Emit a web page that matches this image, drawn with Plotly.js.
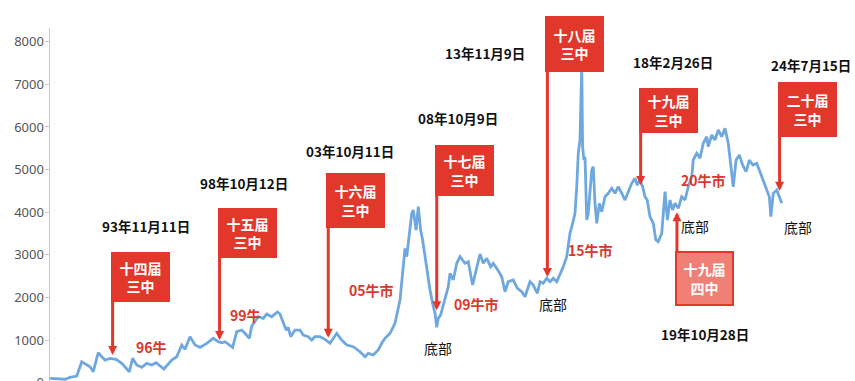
<!DOCTYPE html>
<html>
<head>
<meta charset="utf-8">
<script src="https://cdn.plot.ly/plotly-3.0.1.min.js"></script>
<style>
  html, body { margin: 0; padding: 0; background: #fff; overflow: hidden; }
  #chart { width: 855px; height: 385px; }
</style>
</head>
<body>
<div id="chart"></div>
<script>
// Index level, sampled along the timeline (decimal years)
const years = [1990.98,1991.67,1991.90,1992.21,1992.44,1992.67,1992.82,1992.97,1993.20,1993.36,1993.51,1993.74,1994.02,1994.28,1994.43,1994.63,1994.78,1994.97,1995.20,1995.43,1995.66,1995.86,1996.22,1996.58,1996.81,1997.04,1997.19,1997.42,1997.65,1997.88,1998.19,1998.49,1998.72,1998.88,1999.03,1999.26,1999.38,1999.57,1999.80,1999.95,2000.15,2000.26,2000.41,2000.56,2000.79,2000.95,2001.18,2001.44,2001.56,2001.71,2001.84,2001.94,2002.05,2002.25,2002.48,2002.63,2002.86,2003.02,2003.17,2003.40,2003.63,2003.86,2004.17,2004.40,2004.63,2004.93,2005.24,2005.47,2005.62,2005.85,2006.08,2006.24,2006.39,2006.62,2006.85,2007.08,2007.20,2007.31,2007.39,2007.51,2007.62,2007.69,2007.82,2007.92,2008.03,2008.12,2008.23,2008.34,2008.46,2008.58,2008.69,2008.77,2008.84,2008.95,2009.15,2009.30,2009.38,2009.53,2009.69,2009.84,2010.07,2010.22,2010.42,2010.58,2010.76,2010.91,2011.07,2011.25,2011.37,2011.53,2011.76,2011.91,2012.06,2012.29,2012.48,2012.68,2012.83,2013.06,2013.21,2013.40,2013.52,2013.67,2013.83,2013.98,2014.13,2014.29,2014.44,2014.59,2014.75,2014.90,2015.02,2015.13,2015.21,2015.28,2015.36,2015.44,2015.48,2015.54,2015.59,2015.67,2015.74,2015.90,2015.97,2016.05,2016.13,2016.25,2016.36,2016.51,2016.66,2016.82,2016.97,2017.12,2017.28,2017.43,2017.58,2017.74,2017.89,2017.99,2018.12,2018.24,2018.35,2018.45,2018.58,2018.73,2018.85,2018.96,2019.12,2019.27,2019.38,2019.50,2019.62,2019.73,2019.88,2020.04,2020.19,2020.34,2020.50,2020.57,2020.73,2020.88,2021.03,2021.19,2021.26,2021.42,2021.57,2021.72,2021.88,2022.03,2022.18,2022.29,2022.41,2022.54,2022.69,2022.84,2023.00,2023.15,2023.31,2023.49,2023.64,2023.79,2023.95,2024.07,2024.14,2024.25,2024.41,2024.53,2024.64];
const levels = [101,80,124,155,490,413,373,256,702,608,530,570,547,453,373,256,570,413,359,453,413,467,319,530,608,882,781,1077,882,828,922,1040,960,936,960,859,828,1195,1234,1157,1040,1328,1429,1547,1509,1610,1547,1657,1610,1392,1234,1298,1077,1234,1234,1117,1077,1000,1077,1077,1016,922,1157,1000,882,843,725,608,688,648,765,922,1040,1157,1392,1939,2565,3152,2955,3504,3973,4051,3581,4128,3581,3347,2955,2643,2173,1861,1626,1300,1509,1587,1939,2251,2565,2408,2800,2955,2800,2837,2290,2643,3018,2800,2917,2720,2800,2682,2485,2133,2368,2408,2213,2133,2016,2368,2290,2096,2368,2330,2448,2368,2448,2368,2525,2720,2955,3504,3739,3973,4597,5381,5693,7430,5537,5224,5302,3816,3973,4989,5067,4208,3739,4208,4011,4363,4443,4560,4443,4597,4443,4285,4480,4677,4795,4637,4755,4597,4363,4285,3894,3739,3347,3307,3504,4480,3816,4285,4051,4208,4090,4363,4285,4597,4832,5224,5381,5264,5616,5771,5537,5811,5693,5928,5771,5968,5616,5146,4597,5224,5341,5107,4950,5224,5107,5146,4950,4755,4560,4363,3894,4443,4520,4363,4208];

// Plenum dates (decimal years) and the index level each arrow points at
const plenumNames = ['十四届<br>三中','十五届<br>三中','十六届<br>三中','十七届<br>三中','十八届<br>三中','十九届<br>三中','十九届<br>四中','二十届<br>三中'];
const plenumDates = [1993.86,1998.78,2003.78,2008.77,2013.86,2018.15,2019.82,2024.54];
const plenumLevels = [650,1000,1050,1700,2480,4640,4000,4500];
const plenumDateText = ['93年11月11日','98年10月12日','03年10月11日','08年10月9日','13年11月9日','18年2月26日','19年10月28日','24年7月15日'];

// Bull-market and bottom labels
const bullText = ['96牛','99牛','05牛市','09牛市','15牛市','20牛市'];
const bottomText = ['底部','底部','底部','底部'];

const yTicks = [0,1000,2000,3000,4000,5000,6000,7000,8000];

const RED = '#e2382c';
const CJK = '"Noto Sans CJK SC", "Noto Sans", sans-serif';

// Layout placement of flags and labels (axis units)
const flagBase =   [1889, 2924, 3628, 4379, 7289, 5857, 3088, 5764];
const flagHeight = [50, 50, 55, 51, 56, 45, 55, 55];
const dateLabelPos = [[1995.40,3675],[1999.90,4690],[2004.76,5435],[2009.75,6210],[2010.99,7735],[2019.64,7524],[2021.11,1141],[2025.98,7454]];
const bullPos = [[1995.67,835],[1999.95,1586],[2005.79,2173],[2010.62,1845],[2015.82,3112],[2021.02,4750]];
const bottomPos = [[2008.83,812],[2014.12,1845],[2020.65,3675],[2025.39,3652]];

const annotations = [];

plenumDates.forEach((d, i) => {
  const below = i === 6; // the fourth plenum flag hangs under the line
  // arrow from inside the flag down (or up) to the line; the flag box covers its tail
  annotations.push({
    x: d, y: plenumLevels[i], xref: 'x', yref: 'y',
    ax: d, ay: below ? flagBase[i] - 200 : flagBase[i] + 200, axref: 'x', ayref: 'y',
    text: '', showarrow: true,
    arrowhead: 2, arrowsize: 0.6, arrowwidth: 3, arrowcolor: RED, standoff: 0
  });
  // flag box
  annotations.push({
    x: d, y: flagBase[i], xref: 'x', yref: 'y',
    xanchor: 'left', yanchor: below ? 'top' : 'bottom',
    xshift: -2,
    text: '<b>' + plenumNames[i] + '</b>',
    showarrow: false,
    width: below ? 55 : 59, height: below ? 51 : flagHeight[i],
    bgcolor: below ? '#f07f76' : RED,
    bordercolor: RED,
    borderwidth: below ? 2 : 0,
    borderpad: 0,
    font: { family: CJK, size: 14, color: '#ffffff' },
    align: 'center', valign: 'middle'
  });
  // date label
  annotations.push({
    x: dateLabelPos[i][0], y: dateLabelPos[i][1], xref: 'x', yref: 'y',
    text: '<b>' + plenumDateText[i] + '</b>', showarrow: false,
    font: { family: CJK, size: 13.5, color: '#111111' }
  });
});

bullText.forEach((t, i) => {
  annotations.push({
    x: bullPos[i][0], y: bullPos[i][1], xref: 'x', yref: 'y',
    text: '<b>' + t + '</b>', showarrow: false,
    font: { family: CJK, size: 14, color: '#d8382d' }
  });
});

bottomText.forEach((t, i) => {
  annotations.push({
    x: bottomPos[i][0], y: bottomPos[i][1], xref: 'x', yref: 'y',
    text: t, showarrow: false,
    font: { family: CJK, size: 14, color: '#111111' }
  });
});

const trace = {
  x: years, y: levels, type: 'scatter', mode: 'lines',
  line: { color: '#6fa7df', width: 2.8 },
  hoverinfo: 'skip'
};

const layout = {
  width: 855, height: 385,
  margin: { l: 50, r: 0, t: 28, b: 2 },
  paper_bgcolor: '#ffffff', plot_bgcolor: '#ffffff',
  showlegend: false,
  xaxis: {
    range: [1990.98, 2028.01],
    showgrid: false, zeroline: false, showline: false,
    showticklabels: false, ticks: ''
  },
  yaxis: {
    range: [-9, 8322],
    tickvals: yTicks,
    ticktext: yTicks.map(String),
    showgrid: false, zeroline: false,
    showline: true, linecolor: '#c8c8c8', linewidth: 1.5,
    ticks: 'outside', ticklen: 4, tickcolor: '#c8c8c8', tickwidth: 1,
    ticklabelstandoff: -2,
    ticklabeloverflow: 'allow',
    tickfont: { family: '"Noto Sans", "Open Sans", sans-serif', size: 13, color: '#555555' }
  },
  annotations: annotations
};

Plotly.newPlot('chart', [trace], layout, { staticPlot: true, displayModeBar: false });
</script>
</body>
</html>
